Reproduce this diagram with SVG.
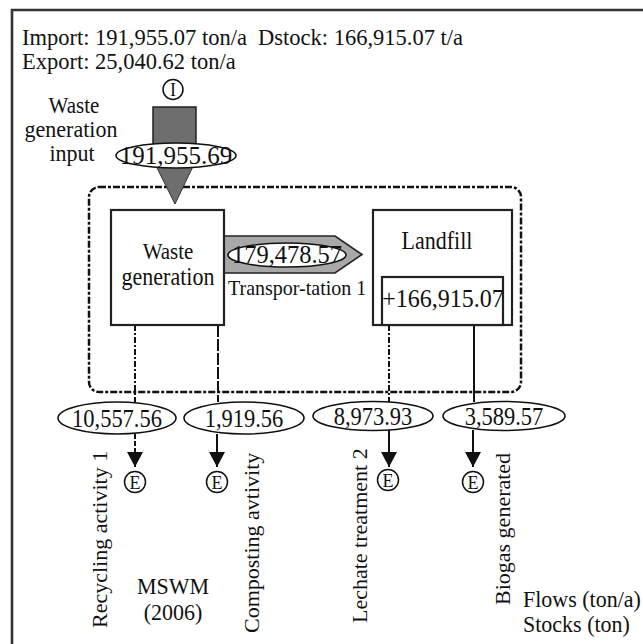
<svg xmlns="http://www.w3.org/2000/svg" width="643" height="644" viewBox="0 0 643 644">
<style>
.t{font-family:"Liberation Serif","Times New Roman",serif;fill:#111}
.c{text-anchor:middle}
.box{fill:#fff;stroke:#222;stroke-width:2.2}
.el{fill:#fff;stroke:#111;stroke-width:1.6}
.ln{stroke:#111;stroke-width:2;fill:none}
.circ{fill:#fff;stroke:#111;stroke-width:1.5}
</style>
<defs>
<marker id="ah" viewBox="0 0 15 16" refX="15" refY="8" markerWidth="15" markerHeight="16" markerUnits="userSpaceOnUse" orient="auto">
<path d="M0,0 L15,8 L0,16 z" fill="#111"/>
</marker>
</defs>
<rect width="643" height="644" fill="#fff"/>
<path d="M12,644 V10 H643" fill="none" stroke="#333" stroke-width="2.6"/>

<g id="header">
<text class="t" style="font-size:22.5px" transform="translate(22,45) scale(1,1.03)" xml:space="preserve">Import: 191,955.07 ton/a  Dstock: 166,915.07 t/a</text>
<text class="t" style="font-size:22.5px" transform="translate(22,69) scale(1,1.03)">Export: 25,040.62 ton/a</text>
</g>

<g id="system-boundary">
<rect x="89" y="187" width="432" height="205" rx="10" fill="none" stroke="#111" stroke-width="2.5" stroke-dasharray="7 2 3 2"/>
</g>

<g id="connectors">
<rect x="153" y="107" width="43" height="45" fill="#6e6e6e" stroke="#222" stroke-width="1.5"/>
<polygon points="152,158 197,158 175,204" fill="#6e6e6e" stroke="#333" stroke-width="1"/>
<ellipse class="el" cx="176" cy="155.5" rx="60" ry="12.5"/>
<text class="t c" style="font-size:25px" transform="translate(176,163.5) scale(1,1.04)">191,955.69</text>
<polygon points="224,236 335,236 362,254.5 335,273 224,273" fill="#a8a8a8" stroke="#222" stroke-width="1.6"/>
<ellipse class="el" cx="287" cy="255" rx="59" ry="12"/>
<text class="t c" style="font-size:24.5px" transform="translate(287,263) scale(1,1.04)">179,478.57</text>
<text class="t" style="font-size:20px" transform="translate(228,295) scale(1,1.1)">Transpor-tation 1</text>
<line class="ln" x1="135" y1="325" x2="135" y2="402" stroke-dasharray="6 2 2 2"/>
<line class="ln" x1="218" y1="325" x2="218" y2="402" stroke-dasharray="12 2"/>
<line class="ln" x1="389" y1="325" x2="389" y2="402" stroke-dasharray="6 2 2 2"/>
<line class="ln" x1="474" y1="325" x2="474" y2="402"/>
<line class="ln" x1="135" y1="434" x2="135" y2="467" stroke-dasharray="5 2" marker-end="url(#ah)"/>
<line class="ln" x1="217" y1="434" x2="217" y2="467" marker-end="url(#ah)"/>
<line class="ln" x1="389" y1="430" x2="389" y2="467" marker-end="url(#ah)"/>
<line class="ln" x1="473" y1="430" x2="473" y2="467" marker-end="url(#ah)"/>
<ellipse class="el" cx="117" cy="418" rx="59" ry="16"/>
<text class="t c" style="font-size:22.5px" transform="translate(117,427) scale(1,1.1)">10,557.56</text>
<ellipse class="el" cx="244" cy="418" rx="60" ry="16"/>
<text class="t c" style="font-size:22.5px" transform="translate(244,427) scale(1,1.1)">1,919.56</text>
<ellipse class="el" cx="373" cy="416" rx="60" ry="14.5"/>
<text class="t c" style="font-size:22.5px" transform="translate(373,424.5) scale(1,1.1)">8,973.93</text>
<ellipse class="el" cx="504" cy="416" rx="61" ry="14.5"/>
<text class="t c" style="font-size:22.5px" transform="translate(504,424.5) scale(1,1.1)">3,589.57</text>
</g>

<g id="import-I">
<circle class="circ" cx="173" cy="89.5" r="10"/>
<text class="t c" style="font-size:18px" x="173" y="96">I</text>
</g>
<g id="input-label">
<text class="t c" style="font-size:21px" transform="translate(74,113) scale(1,1.06)">Waste</text>
<text class="t c" style="font-size:22px" transform="translate(71,137) scale(1,1.06)">generation</text>
<text class="t c" style="font-size:22px" transform="translate(72,161) scale(1,1.06)">input</text>
</g>

<g id="waste-generation">
<rect class="box" x="111" y="210" width="113" height="115"/>
<text class="t c" style="font-size:21px" transform="translate(168,259) scale(1,1.12)">Waste</text>
<text class="t c" style="font-size:22px" transform="translate(168,285) scale(1,1.12)">generation</text>
</g>

<g id="landfill">
<rect class="box" x="373" y="210" width="139" height="115"/>
<text class="t c" style="font-size:22px" transform="translate(437,249) scale(1,1.1)">Landfill</text>
<rect class="box" x="382" y="277" width="121" height="48"/>
<text class="t c" style="font-size:24px" transform="translate(443,307) scale(1,1.06)">+166,915.07</text>
</g>

<g id="exports">
<circle class="circ" cx="135" cy="482" r="10.5"/>
<text class="t c" style="font-size:18px" x="135" y="488.5">E</text>
<circle class="circ" cx="217" cy="482" r="10.5"/>
<text class="t c" style="font-size:18px" x="217" y="488.5">E</text>
<circle class="circ" cx="388" cy="480" r="10.5"/>
<text class="t c" style="font-size:18px" x="388" y="486.5">E</text>
<circle class="circ" cx="473" cy="482" r="10.5"/>
<text class="t c" style="font-size:18px" x="473" y="488.5">E</text>
</g>

<g id="export-labels">
<text class="t" style="font-size:22px" transform="translate(107,628) rotate(-90)">Recycling activity 1</text>
<text class="t" style="font-size:22px" transform="translate(259,633) rotate(-90)">Composting avtivity</text>
<text class="t" style="font-size:22px" transform="translate(367,623) rotate(-90)">Lechate treatment 2</text>
<text class="t" style="font-size:22px" transform="translate(510,605) rotate(-90)">Biogas generated</text>
</g>

<g id="title">
<text class="t c" style="font-size:22px" transform="translate(173,594) scale(1,1.04)">MSWM</text>
<text class="t c" style="font-size:22px" transform="translate(173,620) scale(1,1.04)">(2006)</text>
</g>

<g id="legend">
<text class="t" style="font-size:22px" transform="translate(523,607) scale(1,1.06)">Flows (ton/a)</text>
<text class="t" style="font-size:22px" transform="translate(523,632) scale(1,1.06)">Stocks (ton)</text>
</g>
</svg>
